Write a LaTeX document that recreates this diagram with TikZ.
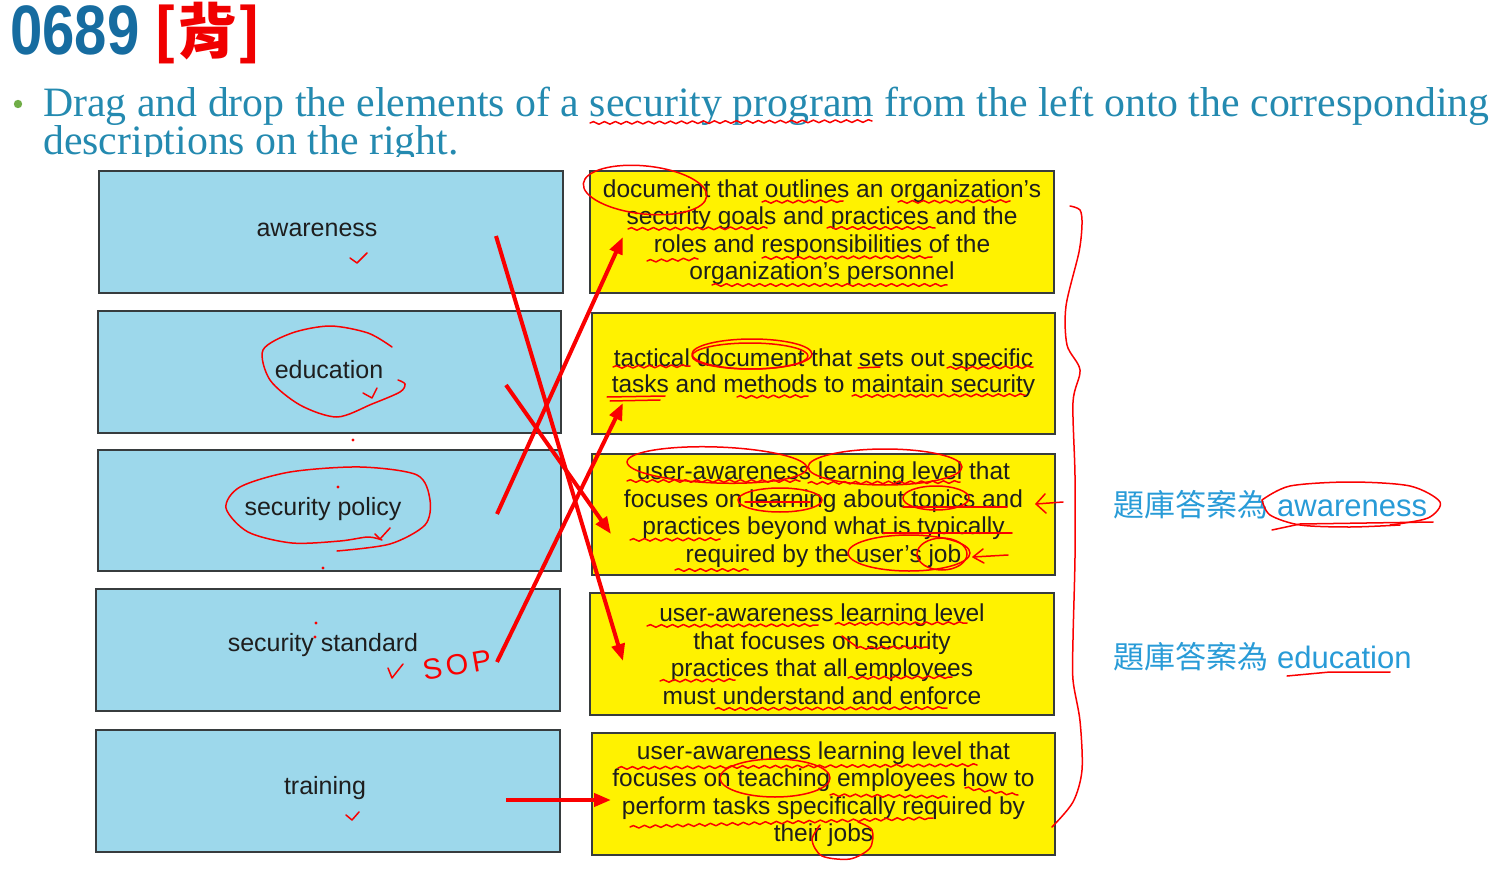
\documentclass[tikz,border=0pt]{standalone}
\usepackage{fontspec}
\setmainfont{Liberation Sans}
\newfontfamily\headserif{Liberation Serif}
\newfontfamily\cjk{Noto Sans CJK TC}
\usetikzlibrary{arrows.meta,decorations.pathmorphing}

\definecolor{titleblue}{RGB}{22,108,160}
\definecolor{titlered}{RGB}{240,0,0}
\definecolor{headteal}{RGB}{36,138,176}
\definecolor{bulletgreen}{RGB}{112,173,71}
\definecolor{termblue}{RGB}{157,216,235}
\definecolor{descyellow}{RGB}{255,242,0}
\definecolor{boxline}{RGB}{55,60,62}
\definecolor{inkgray}{RGB}{30,30,30}
\definecolor{answerblue}{RGB}{40,155,215}
\definecolor{pen}{RGB}{250,0,0}

\begin{document}
\begin{tikzpicture}[x=1pt,y=-1pt,
  termbox/.style={draw=boxline,line width=1.6pt,fill=termblue,minimum width=464pt,
    minimum height=122pt,inner sep=0pt},
  termtext/.style={inner sep=0pt,text=inkgray,font=\fontsize{25}{27.5}\selectfont},
  descbox/.style={draw=boxline,line width=1.6pt,fill=descyellow,minimum width=463pt,
    minimum height=122pt,inner sep=0pt,text=inkgray,align=center,
    font=\fontsize{24.5}{27.5}\selectfont},
  ink/.style={draw=pen,line width=1.5pt,line cap=round,line join=round},
  wav/.style={ink,decorate,decoration={snake,amplitude=1.3pt,segment length=11pt}},
  bigink/.style={draw=pen,line width=4pt,-{Triangle[length=17pt,width=13pt]}},
  answer/.style={anchor=base west,text=answerblue,font=\fontsize{31}{31}\selectfont},
]
\useasboundingbox (0,0) rectangle (1503,874);

% ---- heading ----
\node[anchor=base west,inner sep=0pt,text=titleblue,font=\bfseries\fontsize{70}{70}\selectfont]
  (num) at (10,55) {\scalebox{0.83}[1]{0689}};
\node[inner sep=0pt,text=titlered,font=\cjk\bfseries\fontsize{60}{60}\selectfont]
  (tag) at (207,33) {[背]};
\fill[bulletgreen] (18,104) circle (4.2);
\node[anchor=base west,inner sep=0pt,text=headteal,font=\headserif\fontsize{41.8}{42}\selectfont]
  (q1) at (43,117) {Drag and drop the elements of a security program from the left onto the corresponding};
\begin{scope}
  \clip (0,124) rectangle (1503,157);
  \node[anchor=base west,inner sep=0pt,text=headteal,font=\headserif\fontsize{41.8}{42}\selectfont]
    (q2) at (43,155) {descriptions on the right.};
\end{scope}

% ---- terms on the left ----
\node[termbox] (l1) at (331,232) {};
\node[termbox,minimum width=463pt] (l2) at (329.5,372) {};
\node[termbox,minimum width=463pt,minimum height=121pt] (l3) at (329.5,510.5) {};
\node[termbox] (l4) at (328,650) {};
\node[termbox] (l5) at (328,791) {};
\node[termtext] (l1t) at (317,230) {awareness};
\node[termtext] (l2t) at (329,370) {education};
\node[termtext] (l3t) at (323,509) {security policy};
\node[termtext] (l4t) at (323,645) {security standard};
\node[termtext] (l5t) at (325,788) {training};

% ---- descriptions on the right ----
\node[descbox,minimum width=464pt] (r1) at (822,232)
  {document that outlines an organization’s\\security goals and practices and the\\roles and responsibilities of the\\organization’s personnel};
\node[descbox,minimum height=121pt] (r2) at (823.5,373.5)
  {\raisebox{3pt}{\shortstack{tactical document that sets out specific\\tasks and methods to maintain security}}};
\node[descbox,minimum height=121pt] (r3) at (823.5,514.5)
  {user-awareness learning level that\\focuses on learning about topics and\\practices beyond what is typically\\required by the user’s job};
\node[descbox,minimum width=464pt] (r4) at (822,654)
  {user-awareness learning level\\that focuses on security\\practices that all employees\\must understand and enforce};
\node[descbox] (r5) at (823.5,794)
  {user-awareness learning level that\\focuses on teaching employees how to\\perform tasks specifically required by\\their jobs};

% ---- answer notes ----
\node[answer] (n1) at (1110,516) {{\cjk 題庫答案為} awareness};
\node[answer] (n2) at (1110,668) {{\cjk 題庫答案為} education};

% ---- matching strokes ----
\coordinate (a1) at (496,236); \coordinate (t1) at (623,661);
\coordinate (a2) at (506,385); \coordinate (t2) at (611,534);
\coordinate (a3) at (497,514); \coordinate (t3) at (623,237);
\coordinate (a4) at (497,662); \coordinate (t4) at (623,403);
\coordinate (a5) at (506,800); \coordinate (t5) at (611,800);
\draw[bigink] (a1) -- (t1);
\draw[bigink] (a2) -- (t2);
\draw[bigink] (a3) -- (t3);
\draw[bigink] (a4) -- (t4);
\draw[bigink] (a5) -- (t5);

% ---- pen marks: heading ----
\draw[wav] (590,123) -- (872,121);

% ---- pen marks: terms ----
\draw[ink] (350,258) -- (357,263) -- (367,253);
\draw[ink] plot[smooth] coordinates {(392,347) (368,333) (330,326) (292,333) (263,350) (270,380) (300,405) (337,417) (372,404) (400,392) (405,384) (398,380)};
\draw[ink] (363,393) -- (372,398) -- (377,388);
\draw[ink] plot[smooth] coordinates {(337,551) (390,544) (425,525) (430,500) (417,475) (360,467) (290,472) (240,487) (226,508) (248,532) (292,543) (340,541) (368,537) (382,540)};
\draw[ink] (375,534) -- (380,539) -- (390,528);
\draw[ink] (388,668) -- (392,678) -- (403,664);
\draw[ink] (346,815) -- (352,820) -- (359,812);
\foreach \p in {(353,440),(338,487),(323,568),(316,623),(315,637)}
  \fill[pen] \p circle (1.6);
\node[text=pen,rotate=10,inner sep=0pt,font=\fontsize{29}{29}\selectfont] (sop) at (457,665) {S\kern4pt O\kern4pt P};

% ---- pen marks: descriptions ----
% r1
\draw[ink,rotate around={-6:(645,190)}] (645,190) ellipse (62 and 24);
\draw[wav] (762,202) -- (843,201);
\draw[wav] (898,202) -- (1010,201);
\draw[wav] (628,229) -- (767,228);
\draw[wav] (827,228) -- (935,228);
\draw[wav] (647,261) -- (698,259);
\draw[wav] (762,258) -- (932,257);
\draw[wav] (712,285) -- (947,285);
% r2
\draw[wav] (613,367) -- (690,366);
\draw[ink] (752,354) ellipse (60 and 15);
\draw[ink] (750,356) ellipse (58 and 13);
\draw[ink] (858,368) -- (880,367);
\draw[wav] (947,368) -- (1033,367);
\draw[ink] (607,397) -- (665,396);
\draw[ink] (610,401) -- (660,400);
\draw[wav] (737,397) -- (808,396);
\draw[wav] (852,396) -- (1025,395);
% r3
\draw[ink,rotate around={-2:(717,465)}] (717,465) ellipse (90 and 18);
\draw[wav] (627,481) -- (800,481);
\draw[ink] (885,467) ellipse (77 and 18);
\draw[wav] (808,483) -- (960,482);
\draw[ink] (780,500) ellipse (42 and 12);
\draw[ink] (745,502) -- (810,502);
\draw[ink] (936,498) ellipse (33 and 12);
\draw[ink] (903,507) -- (1007,507);
\draw[wav] (630,540) -- (720,539);
\draw[ink] (883,533) -- (1012,533);
\draw[wav] (675,570) -- (748,570);
\draw[ink] (909,553) ellipse (61 and 18);
\draw[ink] (942,554) ellipse (25 and 16);
\draw[ink] (1008,555) -- (973,557);
\draw[ink] (983,549) -- (973,557) -- (984,563);
\draw[ink] (1063,502) -- (1036,504);
\draw[ink] (1045,494) -- (1036,504) -- (1046,513);
% r4
\draw[wav] (647,626) -- (818,625);
\draw[wav] (835,624) -- (967,623);
\draw[ink] (842,636) -- (857,647);
\draw[wav] (857,648) -- (928,647);
\draw[wav] (660,681) -- (735,680);
\draw[wav] (848,678) -- (952,677);
\draw[wav] (715,709) -- (947,708);
% r5
\draw[wav] (618,768) -- (977,765);
\draw[ink] (775,778) ellipse (55 and 19);
\draw[wav] (830,795) -- (947,797);
\draw[wav] (965,788) -- (1018,795);
\draw[wav] (630,827) -- (933,818);
\draw[ink] plot[smooth] coordinates {(820,825) (812,840) (822,856) (850,859) (870,848) (872,830) (858,822)};

% ---- pen marks: bracket and answers ----
\draw[ink] plot[smooth] coordinates {(1070,206) (1080,210) (1082,224) (1079,252) (1066,306) (1067,345) (1080,370) (1073,402) (1075,476) (1075,557) (1073,639) (1073,680) (1080,721) (1082,770) (1073,802) (1052,827)};
\draw[ink] plot[smooth] coordinates {(1262,500) (1290,486) (1350,482) (1410,486) (1440,502) (1428,518) (1390,525)};
\draw[ink] plot[smooth] coordinates {(1262,500) (1270,515) (1300,525) (1350,527) (1400,525)};
\draw[ink] (1272,530) -- (1300,524) -- (1433,522);
\draw[ink] (1287,676) -- (1330,672) -- (1390,672);
\end{tikzpicture}
\end{document}
